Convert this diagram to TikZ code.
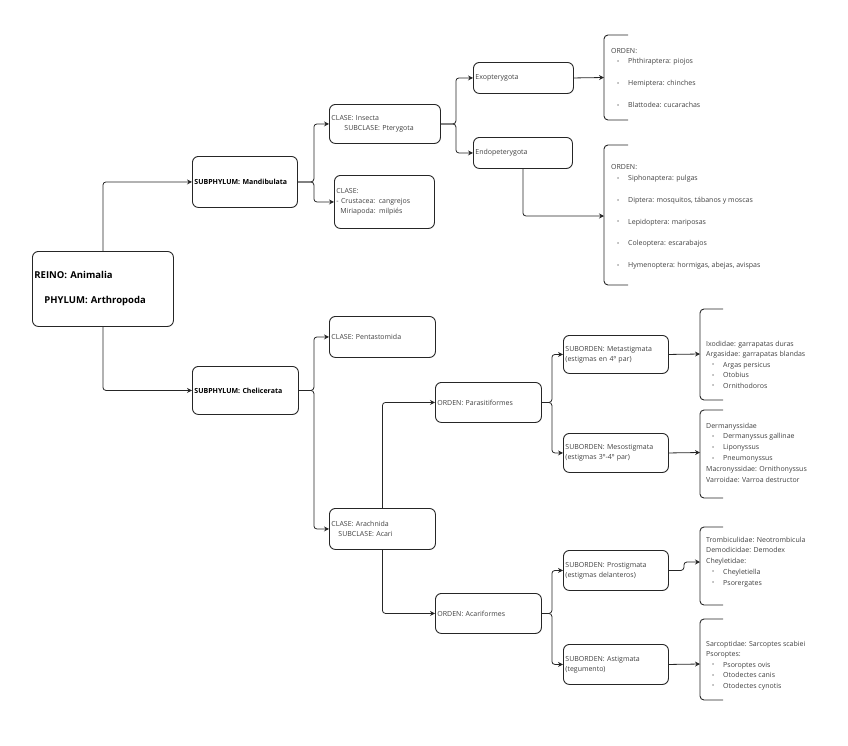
\documentclass[tikz,border=0pt]{standalone}
\usepackage{fontspec}
\setmainfont{Open Sans}
\usetikzlibrary{arrows.meta,positioning}
\newcommand{\bul}{\hspace*{6pt}\makebox[11pt][l]{\raisebox{0.4pt}{\fontsize{5.5}{5.5}\selectfont\textbullet}}}

\begin{document}
\begin{tikzpicture}[x=1pt,y=-1pt,
    box/.style={draw=black!85, rounded corners=6pt, line width=0.9pt, inner sep=2pt,
        align=left, anchor=north west, text=black!75, font=\fontsize{7}{10}\selectfont},
    boldbox/.style={box, text=black, font=\bfseries\fontsize{7}{10}\selectfont},
    list/.style={inner sep=0pt, align=left, anchor=north west, text=black!75,
        font=\fontsize{7}{10.5}\selectfont},
    arr/.style={draw=black!85, line width=0.8pt, rounded corners=3pt,
        -{Stealth[length=5pt,width=5pt]}},
    brk/.style={draw=black!85, line width=0.9pt, rounded corners=4pt}]
    \useasboundingbox (0,0) rectangle (848,745);

    % kingdom and subphyla
    \node[boldbox, text width=137pt, minimum height=75pt, font=\bfseries\fontsize{9.5}{12}\selectfont] (root) at (32,251)
        {REINO: Animalia\\[13pt]\hspace*{10pt}PHYLUM: Arthropoda};
    \node[boldbox, text width=101pt, minimum height=51pt] (mand) at (192,156) {SUBPHYLUM: Mandibulata};
    \node[boldbox, text width=102pt, minimum height=48pt] (chel) at (192,366) {SUBPHYLUM: Chelicerata};

    % Mandibulata side
    \node[box, text width=107pt, minimum height=39pt] (ins) at (329,104)
        {CLASE: Insecta\\\hspace*{13pt}SUBCLASE: Pterygota};
    \node[box, text width=96pt, minimum height=53pt] (crus) at (334,175)
        {CLASE:\\- Crustacea: cangrejos\\\hspace*{4pt}Miriapoda: milpiés};
    \node[box, text width=96pt, minimum height=31pt] (exo) at (473,62) {Exopterygota};
    \node[box, text width=95pt, minimum height=31pt] (endo) at (473,137) {Endopeterygota};

    \node[list, font=\fontsize{7}{10}\selectfont] (exolist) at (611,48.5)
        {ORDEN:\\
        \bul Phthiraptera: piojos\\[12pt]
        \bul Hemiptera: chinches\\[12pt]
        \bul Blattodea: cucarachas};
    \node[list, font=\fontsize{7}{11}\selectfont] (endolist) at (611,164.5)
        {ORDEN:\\
        \bul Siphonaptera: pulgas\\[10.7pt]
        \bul Diptera: mosquitos, tábanos y moscas\\[10.7pt]
        \bul Lepidoptera: mariposas\\[10.7pt]
        \bul Coleoptera: escarabajos\\[10.7pt]
        \bul Hymenoptera: hormigas, abejas, avispas};

    % Chelicerata side
    \node[box, text width=102pt, minimum height=41pt] (pent) at (329,316) {CLASE: Pentastomida};
    \node[box, text width=102pt, minimum height=41pt] (arach) at (329,508)
        {CLASE: Arachnida\\\hspace*{7pt}SUBCLASE: Acari};
    \node[box, text width=102pt, minimum height=40pt] (para) at (435,382) {ORDEN: Parasitiformes};
    \node[box, text width=102pt, minimum height=40pt] (acar) at (435,593) {ORDEN: Acariformes};

    \node[box, text width=101pt, minimum height=38pt] (meta) at (563,335)
        {SUBORDEN: Metastigmata\\(estigmas en 4º par)};
    \node[box, text width=101pt, minimum height=39pt] (meso) at (563,433)
        {SUBORDEN: Mesostigmata\\(estigmas 3º-4º par)};
    \node[box, text width=101pt, minimum height=40pt] (prost) at (563,550)
        {SUBORDEN: Prostigmata\\(estigmas delanteros)};
    \node[box, text width=101pt, minimum height=40pt] (astig) at (563,644)
        {SUBORDEN: Astigmata\\(tegumento)};

    \node[list] (metalist) at (706,340.5)
        {Ixodidae: garrapatas duras\\
        Argasidae: garrapatas blandas\\
        \bul Argas persicus\\
        \bul Otobius\\
        \bul Ornithodoros};
    \node[list, font=\fontsize{7}{10.8}\selectfont] (mesolist) at (706,422.5)
        {Dermanyssidae\\
        \bul Dermanyssus gallinae\\
        \bul Liponyssus\\
        \bul Pneumonyssus\\
        Macronyssidae: Ornithonyssus\\
        Varroidae: Varroa destructor};
    \node[list, font=\fontsize{7}{10.75}\selectfont] (prostlist) at (706,536.5)
        {Trombiculidae: Neotrombicula\\
        Demodicidae: Demodex\\
        Cheyletidae:\\
        \bul Cheyletiella\\
        \bul Psorergates};
    \node[list] (astiglist) at (706,640.5)
        {Sarcoptidae: Sarcoptes scabiei\\
        Psoroptes:\\
        \bul Psoroptes ovis\\
        \bul Otodectes canis\\
        \bul Otodectes cynotis};

    % brackets round the lists
    \draw[brk] (628,35) -- (604,35) -- (604,120) -- (628,120);
    \draw[brk] (628,145) -- (604,145) -- (604,285) -- (628,285);
    \draw[brk] (723,309) -- (700,309) -- (700,400) -- (723,400);
    \draw[brk] (723,410) -- (700,410) -- (700,498) -- (723,498);
    \draw[brk] (723,527) -- (700,527) -- (700,605) -- (723,605);
    \draw[brk] (723,619) -- (700,619) -- (700,700) -- (723,700);
    \coordinate (exoL) at (604,77.5);
    \coordinate (endoL) at (604,216);
    \coordinate (metaL) at (700,354);
    \coordinate (mesoL) at (700,452.5);
    \coordinate (prostL) at (700,562);
    \coordinate (astigL) at (700,664);

    % connectors
    \draw[arr] (root.north) |- (mand.west);
    \draw[arr] (root.south) |- (chel.west);
    \draw[arr] (mand.east) -- ++(16,0) |- (ins.west);
    \draw[arr] (mand.east) -- ++(16,0) |- (crus.west);
    \draw[arr] (ins.east) -- ++(15,0) |- (exo.west);
    \draw[arr] (ins.east) -- ++(15,0) |- (endo.west);
    \draw[arr] (exo.east) -- (exoL);
    \draw[arr] (endo.south) |- (endoL);
    \draw[arr] (chel.east) -- ++(15,0) |- (pent.west);
    \draw[arr] (chel.east) -- ++(15,0) |- (arach.west);
    \draw[arr] (arach.north) |- (para.west);
    \draw[arr] (arach.south) |- (acar.west);
    \draw[arr] (para.east) -- ++(10,0) |- (meta.west);
    \draw[arr] (para.east) -- ++(10,0) |- (meso.west);
    \draw[arr] (acar.east) -- ++(10,0) |- (prost.west);
    \draw[arr] (acar.east) -- ++(10,0) |- (astig.west);
    \draw[arr] (meta.east) -- (metaL);
    \draw[arr] (meso.east) -- (mesoL);
    \draw[arr] (prost.east) -- ++(15,0) |- (prostL);
    \draw[arr] (astig.east) -- (astigL);
\end{tikzpicture}
\end{document}
